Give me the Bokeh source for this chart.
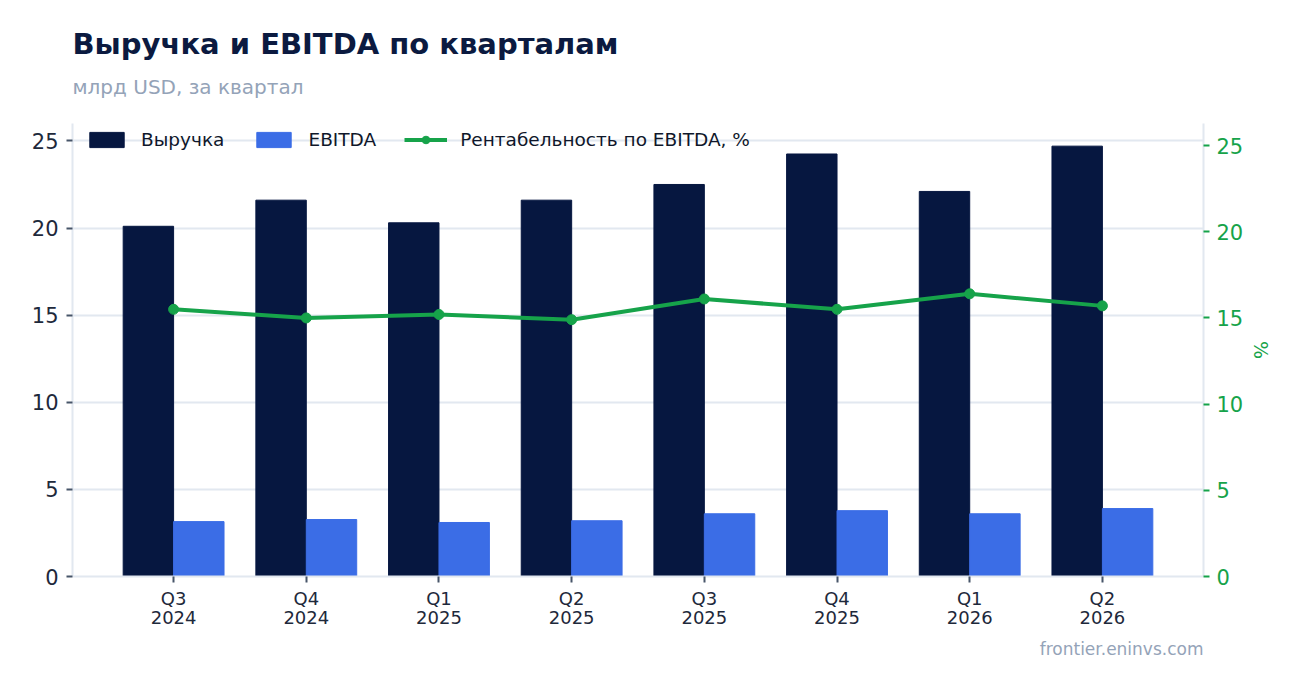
from bokeh.plotting import figure
from bokeh.models import (Range1d, LinearAxis, FixedTicker, Title, Legend, LegendItem,
                          ColumnDataSource)
from bokeh.embed import file_html
from bokeh.resources import INLINE

quarters = ["Q3\n2024", "Q4\n2024", "Q1\n2025", "Q2\n2025", "Q3\n2025", "Q4\n2025", "Q1\n2026", "Q2\n2026"]
revenue = [20.1, 21.6, 20.3, 21.6, 22.5, 24.25, 22.1, 24.7]
ebitda = [3.15, 3.27, 3.1, 3.2, 3.6, 3.78, 3.6, 3.9]
margin = [15.5, 15.0, 15.2, 14.9, 16.1, 15.5, 16.4, 15.7]

FONT = "DejaVu Sans"
NAVY = "#061740"
BLUE = "#3b6de6"
GREEN = "#16a34a"
GRID = "#e2e8f0"

xs = list(range(len(quarters)))
src = ColumnDataSource(dict(
    x_rev=[x - 0.19 for x in xs], x_ebt=[x + 0.19 for x in xs], x=xs,
    revenue=revenue, ebitda=ebitda, margin=margin))

X0 = -0.762
p = figure(width=1286, height=677, output_backend="svg", toolbar_location=None,
           x_range=Range1d(X0, len(xs) - 1 + 0.762), y_range=Range1d(0, 26),
           min_border_left=72, min_border_right=83, min_border_bottom=101, min_border_top=123)
p.title.visible = False
p.outline_line_color = None
p.background_fill_color = "white"
p.border_fill_color = "white"

p.extra_y_ranges = {"pct": Range1d(0, 26.28)}

r1 = p.vbar(x="x_rev", top="revenue", width=0.38, source=src, color=NAVY)
r2 = p.vbar(x="x_ebt", top="ebitda", width=0.38, source=src, color=BLUE)
r3 = p.line(x="x", y="margin", source=src, y_range_name="pct", color=GREEN, line_width=4)
r4 = p.scatter(x="x", y="margin", source=src, y_range_name="pct", color=GREEN, size=10)

# axes
p.xaxis.ticker = FixedTicker(ticks=xs)
p.xaxis.major_label_overrides = {i: q for i, q in enumerate(quarters)}
p.xaxis.major_label_text_font = FONT
p.xaxis.major_label_text_font_size = "18px"
p.xaxis.major_label_text_line_height = 0.95
p.xaxis.major_label_text_color = "#1e293b"
p.xaxis.axis_line_color = GRID
p.xaxis.axis_line_width = 2
p.xaxis.major_tick_line_color = "#475569"
p.xaxis.major_tick_line_width = 2
p.xaxis.major_tick_in = 0
p.xaxis.major_tick_out = 6
p.xaxis.minor_tick_line_color = None
p.xgrid.grid_line_color = None

p.yaxis.ticker = FixedTicker(ticks=[0, 5, 10, 15, 20, 25])
p.yaxis.major_label_text_font = FONT
p.yaxis.major_label_text_font_size = "21px"
p.yaxis.major_label_text_color = "#1e293b"
p.yaxis.major_label_standoff = 8
p.yaxis.axis_line_color = GRID
p.yaxis.axis_line_width = 2
p.yaxis.major_tick_line_color = "#475569"
p.yaxis.major_tick_line_width = 2
p.yaxis.major_tick_in = 0
p.yaxis.major_tick_out = 6
p.yaxis.minor_tick_line_color = None
p.ygrid.grid_line_color = GRID
p.ygrid.grid_line_width = 2
p.ygrid.ticker = FixedTicker(ticks=[0, 5, 10, 15, 20, 25])

ax2 = LinearAxis(y_range_name="pct", ticker=FixedTicker(ticks=[0, 5, 10, 15, 20, 25]),
                 axis_label="%")
ax2.major_label_text_font = FONT
ax2.major_label_text_font_size = "21px"
ax2.major_label_text_color = GREEN
ax2.major_label_standoff = 7
ax2.axis_label_text_font = FONT
ax2.axis_label_text_font_size = "19px"
ax2.axis_label_text_font_style = "normal"
ax2.axis_label_text_color = GREEN
ax2.axis_label_standoff = 4
ax2.axis_line_color = GRID
ax2.axis_line_width = 2
ax2.major_tick_line_color = GREEN
ax2.major_tick_line_width = 2
ax2.major_tick_in = 0
ax2.major_tick_out = 6
ax2.minor_tick_line_color = None
p.add_layout(ax2, "right")

legend = Legend(items=[
    LegendItem(label="Выручка", renderers=[r1]),
    LegendItem(label="EBITDA", renderers=[r2]),
    LegendItem(label="Рентабельность по EBITDA, %", renderers=[r3, r4]),
], orientation="horizontal", location=(13, 426))
legend.label_text_font = FONT
legend.label_text_font_size = "18.5px"
legend.label_text_color = "#0f172a"
legend.label_standoff = 13
legend.background_fill_alpha = 0
legend.border_line_color = None
legend.glyph_width = 43
legend.glyph_height = 19
legend.spacing = 28
legend.margin = 0
legend.padding = 0
p.add_layout(legend, "center")

sub = Title(text="млрд USD, за квартал", text_font=FONT, text_font_size="20px",
            text_font_style="normal", text_color="#94a3b8", offset=0, standoff=49)
p.add_layout(sub, "above")
main = Title(text="Выручка и EBITDA по кварталам", text_font=FONT, text_font_size="29px",
             text_font_style="bold", text_color="#0b1a40", standoff=0)
try:
    main.standoff = -25
except Exception:
    main.standoff = 0
p.add_layout(main, "above")

foot = Title(text="frontier.eninvs.com", text_font=FONT, text_font_size="17px",
             text_font_style="normal", text_color="#94a3b8", align="right")
p.add_layout(foot, "below")

open("out.html", "w").write(file_html(p, INLINE))
